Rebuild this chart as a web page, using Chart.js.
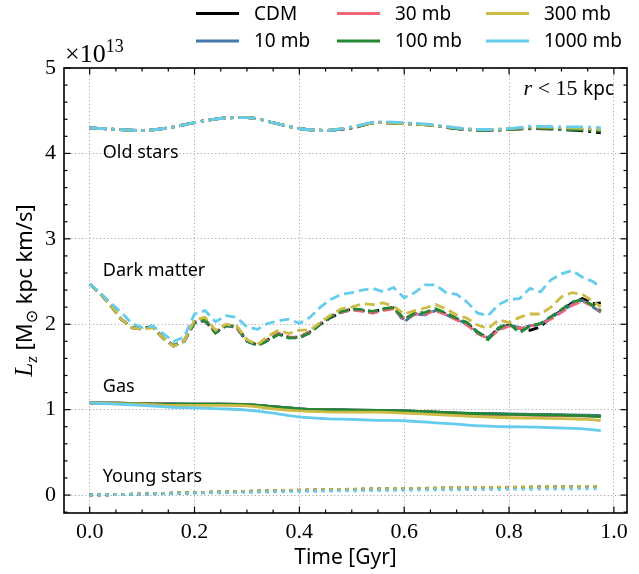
<!DOCTYPE html>
<html>
<head>
<meta charset="utf-8">
<script src="https://cdn.jsdelivr.net/npm/chart.js@4.4.1/dist/chart.umd.min.js"></script>
<style>
  html, body { margin: 0; padding: 0; background: #ffffff; }
  #wrap { width: 639px; height: 574px; }
</style>
</head>
<body>
<div id="wrap"><canvas id="c" width="639" height="574"></canvas></div>
<script>
// Angular momentum L_z (in units of 1e13 Msun kpc km/s) inside r < 15 kpc
const seriesNames  = ['CDM', '10 mb', '30 mb', '100 mb', '300 mb', '1000 mb'];
const seriesColors = ['#000000', '#4477AA', '#EE6677', '#228833', '#CCBB44', '#66CCEE'];

// time samples [Gyr]
const tSmooth = [0, 0.05, 0.1, 0.15, 0.2, 0.25, 0.3, 0.35, 0.4, 0.45, 0.5,
                 0.55, 0.6, 0.65, 0.7, 0.75, 0.8, 0.85, 0.9, 0.95, 0.975];
const tDM = [0, 0.02, 0.04, 0.06, 0.08, 0.1, 0.12, 0.14, 0.16, 0.18,
             0.2, 0.22, 0.24, 0.26, 0.28, 0.3, 0.32, 0.34, 0.36, 0.38,
             0.4, 0.42, 0.44, 0.46, 0.48, 0.5, 0.52, 0.54, 0.56, 0.58,
             0.6, 0.62, 0.64, 0.66, 0.68, 0.7, 0.72, 0.74, 0.76, 0.78,
             0.8, 0.82, 0.84, 0.86, 0.88, 0.9, 0.92, 0.94, 0.96, 0.975];

// Old stars
const oldCDM  = [4.30,4.28,4.27,4.30,4.36,4.41,4.42,4.36,4.29,4.27,4.30,4.36,4.35,4.33,4.29,4.27,4.28,4.29,4.28,4.26,4.24];
const old10   = [4.30,4.28,4.27,4.30,4.36,4.41,4.42,4.36,4.29,4.27,4.30,4.36,4.35,4.33,4.29,4.27,4.28,4.30,4.29,4.28,4.27];
const old30   = [4.30,4.28,4.27,4.30,4.36,4.41,4.42,4.36,4.29,4.27,4.30,4.36,4.35,4.33,4.29,4.27,4.28,4.30,4.29,4.28,4.27];
const old100  = [4.30,4.28,4.27,4.30,4.36,4.41,4.42,4.36,4.29,4.27,4.30,4.36,4.35,4.33,4.29,4.27,4.28,4.30,4.28,4.27,4.26];
const old300  = [4.30,4.28,4.27,4.30,4.36,4.41,4.42,4.36,4.29,4.27,4.31,4.36,4.35,4.33,4.30,4.28,4.29,4.31,4.30,4.29,4.28];
const old1000 = [4.30,4.28,4.27,4.30,4.36,4.41,4.42,4.36,4.29,4.27,4.31,4.37,4.36,4.34,4.30,4.28,4.29,4.32,4.31,4.31,4.30];

// Dark matter
const dmCDM  = [2.47,2.36,2.22,2.06,1.96,1.95,1.97,1.84,1.75,1.80,2.02,2.04,1.90,1.99,1.96,1.80,1.76,1.82,1.89,1.84,1.85,1.91,2.00,2.08,2.14,2.18,2.16,2.14,2.18,2.19,2.05,2.12,2.12,2.17,2.12,2.06,2.01,1.90,1.84,1.95,1.99,1.95,1.93,1.97,2.08,2.16,2.25,2.30,2.24,2.25];
const dm10   = [2.47,2.36,2.22,2.06,1.96,1.95,1.97,1.84,1.74,1.80,2.02,2.05,1.91,1.98,1.97,1.80,1.75,1.81,1.89,1.85,1.84,1.90,2.00,2.09,2.14,2.17,2.16,2.13,2.17,2.19,2.03,2.12,2.11,2.16,2.11,2.06,2.00,1.91,1.84,1.94,1.99,1.96,1.98,2.00,2.08,2.15,2.23,2.28,2.20,2.14];
const dm30   = [2.47,2.36,2.22,2.06,1.96,1.94,1.97,1.84,1.75,1.81,2.03,2.06,1.91,1.99,1.97,1.81,1.76,1.82,1.89,1.85,1.85,1.91,2.01,2.10,2.14,2.17,2.15,2.13,2.16,2.18,2.06,2.12,2.12,2.16,2.11,2.05,1.99,1.89,1.83,1.93,1.98,1.95,1.98,2.00,2.06,2.14,2.22,2.27,2.21,2.15];
const dm100  = [2.47,2.36,2.22,2.06,1.96,1.95,1.97,1.84,1.75,1.80,2.02,2.05,1.90,1.98,1.98,1.81,1.75,1.81,1.88,1.84,1.84,1.90,2.00,2.09,2.15,2.18,2.17,2.15,2.18,2.20,2.06,2.13,2.14,2.18,2.13,2.07,2.02,1.91,1.82,1.96,2.01,1.90,1.98,2.01,2.09,2.17,2.26,2.29,2.22,2.16];
const dm300  = [2.47,2.36,2.22,2.06,1.96,1.94,1.96,1.84,1.74,1.80,2.05,2.08,1.93,2.00,1.98,1.82,1.76,1.86,1.93,1.89,1.93,1.93,2.02,2.11,2.18,2.20,2.24,2.23,2.25,2.21,2.12,2.16,2.19,2.23,2.18,2.11,2.07,1.99,1.95,2.05,2.02,2.08,2.12,2.12,2.20,2.32,2.37,2.35,2.27,2.20];
const dm1000 = [2.47,2.37,2.25,2.14,2.01,1.96,1.98,1.89,1.80,1.85,2.12,2.16,2.03,2.10,2.08,1.97,1.94,2.01,2.04,2.06,2.01,2.08,2.20,2.29,2.35,2.37,2.40,2.42,2.38,2.43,2.31,2.37,2.46,2.46,2.37,2.35,2.26,2.13,2.10,2.23,2.29,2.30,2.42,2.38,2.52,2.59,2.63,2.55,2.50,2.43];

// Gas
const gasCDM  = [1.08,1.075,1.07,1.065,1.065,1.065,1.06,1.035,1.01,1.0,0.995,0.99,0.985,0.975,0.96,0.95,0.945,0.94,0.935,0.93,0.925];
const gas10   = [1.08,1.075,1.07,1.07,1.065,1.065,1.06,1.035,1.01,1.0,0.995,0.99,0.985,0.975,0.96,0.955,0.95,0.945,0.94,0.935,0.93];
const gas30   = [1.08,1.075,1.07,1.065,1.06,1.06,1.055,1.03,1.005,0.995,0.99,0.985,0.98,0.97,0.955,0.945,0.94,0.935,0.93,0.925,0.92];
const gas100  = [1.08,1.075,1.07,1.065,1.065,1.065,1.06,1.035,1.01,1.0,0.995,0.99,0.985,0.975,0.962,0.952,0.945,0.94,0.935,0.928,0.92];
const gas300  = [1.08,1.07,1.065,1.05,1.05,1.05,1.045,1.01,0.985,0.975,0.97,0.97,0.96,0.945,0.93,0.915,0.905,0.9,0.895,0.885,0.875];
const gas1000 = [1.08,1.065,1.05,1.03,1.02,1.01,0.995,0.96,0.915,0.895,0.885,0.875,0.87,0.85,0.83,0.81,0.80,0.795,0.785,0.77,0.755];

// Young stars
const youngCDM  = [0,0.005,0.012,0.02,0.028,0.036,0.043,0.05,0.056,0.061,0.066,0.071,0.075,0.078,0.082,0.086,0.089,0.092,0.095,0.097,0.099];
const young10   = [0,0.005,0.012,0.02,0.028,0.035,0.042,0.049,0.055,0.060,0.065,0.070,0.074,0.078,0.082,0.085,0.088,0.091,0.094,0.096,0.098];
const young30   = [0,0.005,0.012,0.02,0.027,0.035,0.042,0.049,0.055,0.060,0.065,0.070,0.074,0.077,0.081,0.085,0.088,0.091,0.094,0.096,0.098];
const young100  = [0,0.005,0.012,0.021,0.029,0.037,0.044,0.051,0.057,0.062,0.067,0.072,0.076,0.080,0.084,0.088,0.091,0.094,0.097,0.099,0.101];
const young300  = [0,0.005,0.013,0.021,0.029,0.037,0.045,0.052,0.058,0.064,0.069,0.074,0.078,0.082,0.086,0.090,0.093,0.096,0.099,0.101,0.103];
const young1000 = [0,0.004,0.009,0.015,0.021,0.027,0.032,0.037,0.042,0.046,0.050,0.053,0.056,0.059,0.062,0.064,0.066,0.068,0.070,0.072,0.073];

// Component annotations: [text, time, L_z]
const componentLabels = [
  ['Old stars', 0.025, 4.01],
  ['Dark matter', 0.025, 2.62],
  ['Gas', 0.025, 1.27],
  ['Young stars', 0.025, 0.21]
];

const xTickValues = [0, 0.2, 0.4, 0.6, 0.8, 1.0];
const yTickValues = [0, 1, 2, 3, 4, 5];

const components = [
  { key: 'old',   t: tSmooth, data: [oldCDM, old10, old30, old100, old300, old1000],       dash: [17, 5, 3, 5], tension: 0.4 },
  { key: 'dm',    t: tDM,     data: [dmCDM, dm10, dm30, dm100, dm300, dm1000],             dash: [10, 5],        tension: 0 },
  { key: 'gas',   t: tSmooth, data: [gasCDM, gas10, gas30, gas100, gas300, gas1000],       dash: [],             tension: 0.4 },
  { key: 'young', t: tSmooth, data: [youngCDM, young10, young30, young100, young300, young1000], dash: [3, 5], tension: 0.4 }
];

const datasets = [];
components.forEach(comp => {
  comp.data.forEach((vals, si) => {
    datasets.push({
      label: seriesNames[si] + ' ' + comp.key,
      data: vals.map((v, i) => ({ x: comp.t[i], y: v })),
      borderColor: seriesColors[si],
      borderWidth: 2.8,
      borderDash: comp.dash,
      borderCapStyle: 'butt',
      pointRadius: 0,
      fill: false,
      tension: comp.tension,
      cubicInterpolationMode: comp.tension ? 'monotone' : 'default',
      order: seriesNames.length - 1 - si
    });
  });
});

const SANS = '"Noto Sans", "DejaVu Sans", sans-serif';
const SERIF = '"Liberation Serif", "DejaVu Serif", serif';

function drawParts(ctx, parts, x, y) {
  // parts: [text, font, dy]
  let cx = x;
  parts.forEach(([txt, font, dy]) => {
    ctx.font = font;
    ctx.fillText(txt, cx, y + (dy || 0));
    cx += ctx.measureText(txt).width;
  });
}
function partsWidth(ctx, parts) {
  let w = 0;
  parts.forEach(([txt, font]) => { ctx.font = font; w += ctx.measureText(txt).width; });
  return w;
}

const decorations = {
  id: 'decorations',
  afterDraw(chart) {
    const { ctx, chartArea: a, scales: { x, y } } = chart;
    ctx.save();
    ctx.strokeStyle = '#000';
    ctx.fillStyle = '#000';
    ctx.setLineDash([]);

    const seg = (x1, y1, x2, y2) => { ctx.beginPath(); ctx.moveTo(x1, y1); ctx.lineTo(x2, y2); ctx.stroke(); };

    // inward ticks on all four sides
    ctx.lineWidth = 1.2;
    for (let k = 0; k <= 20; k++) {
      const v = k * 0.05;
      if (v < x.min || v > x.max) continue;
      const px = x.getPixelForValue(v);
      const len = (k % 4 === 0) ? 6.5 : 3.5;
      seg(px, a.bottom, px, a.bottom - len);
      seg(px, a.top, px, a.top + len);
    }
    for (let k = -1; k <= 25; k++) {
      const v = k * 0.2;
      if (v < y.min || v > y.max) continue;
      const py = y.getPixelForValue(v);
      const len = (k % 5 === 0) ? 6.5 : 3.5;
      seg(a.left, py, a.left + len, py);
      seg(a.right, py, a.right - len, py);
    }

    // frame
    ctx.lineWidth = 1.6;
    ctx.strokeRect(a.left, a.top, a.right - a.left, a.bottom - a.top);

    // offset multiplier
    ctx.textBaseline = 'alphabetic';
    ctx.textAlign = 'left';
    drawParts(ctx, [['\u00d710', '26px ' + SERIF, 0], ['13', '18px ' + SERIF, -10]], 65, 62);

    // radius annotation
    const rParts = [['r', 'italic 22px ' + SERIF, 0], [' < 15 ', '22px ' + SERIF, 0], ['kpc', '19px ' + SANS, 0]];
    drawParts(ctx, rParts, 614 - partsWidth(ctx, rParts), 95);

    // component labels
    ctx.font = '18px ' + SANS;
    ctx.textBaseline = 'middle';
    componentLabels.forEach(([txt, tv, lv]) => {
      ctx.fillText(txt, x.getPixelForValue(tv), y.getPixelForValue(lv));
    });

    // x axis title
    ctx.textAlign = 'center';
    ctx.textBaseline = 'alphabetic';
    ctx.font = '21px ' + SANS;
    ctx.fillText('Time [Gyr]', (a.left + a.right) / 2, 564);

    // y axis title
    ctx.save();
    ctx.translate(24, (a.top + a.bottom) / 2);
    ctx.rotate(-Math.PI / 2);
    ctx.textAlign = 'left';
    const yParts = [
      ['L', 'italic 25px ' + SERIF, 0],
      ['z', 'italic 17px ' + SERIF, 5],
      [' [M', '22px ' + SANS, 0],
      ['\u2299', '16px "DejaVu Sans", sans-serif', 5],
      [' kpc km/s]', '22px ' + SANS, 0]
    ];
    drawParts(ctx, yParts, -partsWidth(ctx, yParts) / 2, 8);
    ctx.restore();

    // legend: 3 columns x 2 rows, filled column by column
    const colX = [196, 337, 486];
    const rowY = [13.5, 41];
    ctx.font = '19px ' + SANS;
    ctx.textAlign = 'left';
    ctx.textBaseline = 'middle';
    seriesNames.forEach((name, i) => {
      const cx = colX[Math.floor(i / 2)];
      const cy = rowY[i % 2];
      ctx.strokeStyle = seriesColors[i];
      ctx.lineWidth = 3;
      seg(cx, cy, cx + 43, cy);
      ctx.fillStyle = '#000';
      ctx.fillText(name, cx + 58, cy + 1);
    });

    ctx.restore();
  }
};

new Chart(document.getElementById('c'), {
  type: 'line',
  data: { datasets },
  plugins: [decorations],
  options: {
    responsive: false,
    animation: false,
    devicePixelRatio: 1,
    layout: { padding: { top: 68, right: 12, left: 0, bottom: 0 } },
    plugins: { legend: { display: false }, tooltip: { enabled: false } },
    scales: {
      x: {
        type: 'linear',
        min: -0.049,
        max: 1.025,
        afterBuildTicks: s => { s.ticks = xTickValues.map(v => ({ value: v })); },
        afterFit: s => { s.height = 61; },
        ticks: {
          autoSkip: false,
          maxRotation: 0,
          padding: 6,
          color: '#000',
          font: { family: SERIF, size: 22 },
          callback: v => Number(v).toFixed(1)
        },
        grid: { color: '#a8a8a8', lineWidth: 1, drawTicks: false },
        border: { display: false, dash: [1.2, 2.4] }
      },
      y: {
        type: 'linear',
        min: -0.21,
        max: 5,
        afterBuildTicks: s => { s.ticks = yTickValues.map(v => ({ value: v })); },
        afterFit: s => { s.width = 64; },
        ticks: {
          padding: 8,
          color: '#000',
          font: { family: SERIF, size: 22 },
          callback: v => String(v)
        },
        grid: { color: '#a8a8a8', lineWidth: 1, drawTicks: false },
        border: { display: false, dash: [1.2, 2.4] }
      }
    }
  }
});
</script>
</body>
</html>
